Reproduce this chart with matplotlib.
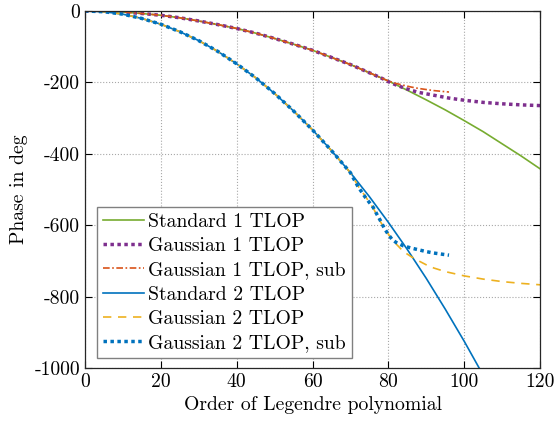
import matplotlib
matplotlib.use("Agg")
import matplotlib.pyplot as plt

# Standard 1 TLOP
x_std1 = [0, 5, 10, 15, 20, 25, 30, 35, 40, 45, 50, 55, 60, 65, 70, 75, 80,
          85, 90, 95, 100, 105, 110, 115, 120]
y_std1 = [0, -1, -3, -7, -12, -19, -28, -38, -49, -62, -77, -93, -110, -130,
          -150, -173, -196, -222, -249, -277, -307, -338, -372, -406, -442]

# Gaussian 1 TLOP
x_g1 = [0, 5, 10, 15, 20, 25, 30, 35, 40, 45, 50, 55, 60, 65, 70, 75, 78,
        80, 82, 84, 86, 88, 90, 92, 94, 96, 98, 100, 105, 110, 115, 120]
y_g1 = [0, -1, -3, -7, -12, -19, -28, -38, -49, -62, -77, -93, -110, -130,
        -150, -173, -187, -198, -207, -215, -222, -228, -232, -236, -240,
        -244, -247, -250, -256, -260, -263, -265]

# Gaussian 1 TLOP, sub
x_g1s = [0, 5, 10, 15, 20, 25, 30, 35, 40, 45, 50, 55, 60, 65, 70, 75, 78,
         80, 82, 84, 86, 88, 90, 92, 94, 96]
y_g1s = [0, -1, -3, -7, -12, -19, -28, -38, -49, -62, -77, -93, -110, -130,
         -150, -173, -187, -196, -203, -208, -213, -217, -220, -223, -225, -227]

# Standard 2 TLOP
x_std2 = [0, 5, 10, 15, 20, 25, 30, 35, 40, 45, 50, 55, 60, 65, 70, 75, 80,
          85, 90, 95, 100, 105]
y_std2 = [0, -2, -9, -21, -37, -58, -83, -113, -148, -187, -231, -280, -333,
          -391, -453, -520, -592, -668, -749, -835, -925, -1020]

# Gaussian 2 TLOP
x_g2 = [0, 5, 10, 15, 20, 25, 30, 35, 40, 45, 50, 55, 60, 65, 70, 72, 74, 76,
        78, 80, 82, 84, 86, 88, 90, 92, 95, 100, 105, 110, 115, 120]
y_g2 = [0, -2, -9, -21, -37, -58, -83, -113, -148, -187, -231, -280, -333,
        -391, -453, -490, -520, -552, -592, -625, -652, -674, -688, -700,
        -711, -720, -730, -742, -751, -758, -763, -767]

# Gaussian 2 TLOP, sub
x_g2s = [0, 5, 10, 15, 20, 25, 30, 35, 40, 45, 50, 55, 60, 65, 70, 72, 74, 76,
         77, 78, 79, 80, 81, 82, 84, 86, 88, 90, 92, 94, 96]
y_g2s = [0, -2, -9, -21, -37, -58, -83, -113, -148, -187, -231, -280, -333,
         -391, -453, -492, -523, -550, -570, -589, -610, -626, -640, -648,
         -658, -664, -669, -674, -678, -681, -684]

labels = ["Standard 1 TLOP", "Gaussian 1 TLOP", "Gaussian 1 TLOP, sub",
          "Standard 2 TLOP", "Gaussian 2 TLOP", "Gaussian 2 TLOP, sub"]

plt.rcParams["font.family"] = ["cmr10", "DejaVu Serif"]
plt.rcParams["axes.unicode_minus"] = False
plt.rcParams["font.size"] = 14.2

fig = plt.figure(figsize=(5.57, 4.26), dpi=100)
ax = fig.add_axes([0.1526, 0.1362, 0.8169, 0.838])

ax.plot(x_std1, y_std1, color="#77AC30", lw=1.2, label=labels[0])
ax.plot(x_g1, y_g1, color="#7E2F8E", lw=2.5, ls=(0, (1, 1)), label=labels[1])
ax.plot(x_g1s, y_g1s, color="#D95319", lw=1.2, ls=(0, (4, 1.5, 1, 1.5)), label=labels[2])
ax.plot(x_std2, y_std2, color="#0072BD", lw=1.2, label=labels[3])
ax.plot(x_g2, y_g2, color="#EDB120", lw=1.2, ls=(0, (5, 4)), label=labels[4])
ax.plot(x_g2s, y_g2s, color="#0072BD", lw=2.5, ls=(0, (1, 1)), label=labels[5])

ax.set_xlim(0, 120)
ax.set_ylim(-1000, 0)
ax.set_xticks(range(0, 121, 20))
ax.set_yticks(range(-1000, 1, 200))
ax.grid(True, ls=":", color="#a8a8a8", lw=0.8)
ax.tick_params(direction="in", top=True, right=True, length=5, width=0.8)
for s in ax.spines.values():
    s.set_linewidth(0.9)
    s.set_color("#262626")

ax.set_xlabel("Order of Legendre polynomial", labelpad=4)
ax.set_ylabel("Phase in deg", labelpad=5)

leg = ax.legend(loc="lower left", bbox_to_anchor=(0.026, 0.028), frameon=True,
                fancybox=False, framealpha=1, edgecolor="#808080",
                handlelength=2.1, handletextpad=0.2, borderpad=0.3,
                labelspacing=0.32, borderaxespad=0.0)
leg.get_frame().set_linewidth(1.0)

fig.savefig("out.png", dpi=100)
